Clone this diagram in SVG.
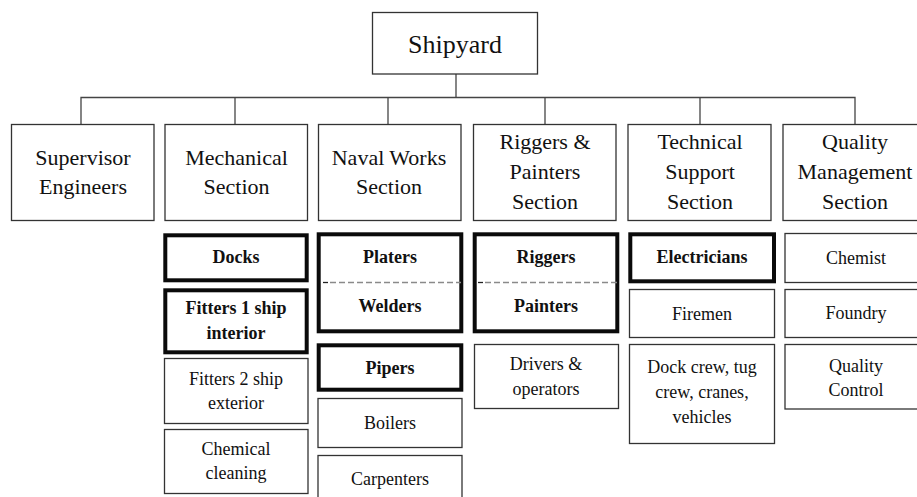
<svg xmlns="http://www.w3.org/2000/svg" width="917" height="497" viewBox="0 0 917 497">
  <style>
    .box { fill: #ffffff; stroke: #333333; stroke-width: 1.3; }
    .bold-box { fill: #ffffff; stroke: #0a0a0a; stroke-width: 4; }
    .link { fill: none; stroke: #444444; stroke-width: 1.3; }
    .divider { stroke: #8a8a8a; stroke-width: 1.3; stroke-dasharray: 6 3; }
    .divider-tick { stroke: #222222; stroke-width: 1.3; }
    text { font-family: "Liberation Serif", "Times New Roman", serif; fill: #111111; text-anchor: middle; }
    .t-root { font-size: 26px; }
    .t-sec { font-size: 22px; }
    .t-unit { font-size: 18px; }
    .t-key { font-size: 18px; font-weight: bold; }
  </style>

  <rect width="917" height="497" fill="#ffffff"/>

  <!-- connectors from the yard to each section -->
  <g id="connectors">
    <path class="link" d="M456,74 V97.5"/>
    <path class="link" d="M81,124.5 V97.5 H855 V124.5"/>
    <path class="link" d="M235,97.5 V124.5"/>
    <path class="link" d="M388,97.5 V124.5"/>
    <path class="link" d="M545,97.5 V124.5"/>
    <path class="link" d="M700,97.5 V124.5"/>
  </g>

  <!-- top level -->
  <g id="shipyard">
    <rect class="box" x="372.5" y="12.5" width="165" height="61.5"/>
    <text class="t-root" x="455" y="53">Shipyard</text>
  </g>

  <!-- sections -->
  <g id="supervisor-engineers">
    <rect class="box" x="11.5" y="124.5" width="142.5" height="96"/>
    <text class="t-sec" x="83" y="165">Supervisor</text>
    <text class="t-sec" x="83" y="194">Engineers</text>
  </g>
  <g id="mechanical-section">
    <rect class="box" x="165" y="124.5" width="142.5" height="96"/>
    <text class="t-sec" x="236.5" y="165">Mechanical</text>
    <text class="t-sec" x="236.5" y="194">Section</text>
  </g>
  <g id="naval-works-section">
    <rect class="box" x="318.5" y="124.5" width="142.5" height="96"/>
    <text class="t-sec" x="389" y="165">Naval Works</text>
    <text class="t-sec" x="389" y="194">Section</text>
  </g>
  <g id="riggers-painters-section">
    <rect class="box" x="473.5" y="124.5" width="142.5" height="96"/>
    <text class="t-sec" x="545" y="149">Riggers &amp;</text>
    <text class="t-sec" x="545" y="179">Painters</text>
    <text class="t-sec" x="545" y="209">Section</text>
  </g>
  <g id="technical-support-section">
    <rect class="box" x="628" y="124.5" width="143" height="96"/>
    <text class="t-sec" x="700" y="149">Technical</text>
    <text class="t-sec" x="700" y="179">Support</text>
    <text class="t-sec" x="700" y="209">Section</text>
  </g>
  <g id="quality-management-section">
    <rect class="box" x="783" y="124.5" width="143" height="96"/>
    <text class="t-sec" x="855" y="149">Quality</text>
    <text class="t-sec" x="855" y="179">Management</text>
    <text class="t-sec" x="855" y="209">Section</text>
  </g>

  <!-- mechanical units -->
  <g id="docks">
    <rect class="bold-box" x="165.3" y="235.3" width="141.4" height="45"/>
    <text class="t-key" x="236" y="263">Docks</text>
  </g>
  <g id="fitters-1">
    <rect class="bold-box" x="165.3" y="290.3" width="141.4" height="62"/>
    <text class="t-key" x="236" y="314">Fitters 1 ship</text>
    <text class="t-key" x="236" y="339">interior</text>
  </g>
  <g id="fitters-2">
    <rect class="box" x="164.5" y="358.5" width="143.5" height="65"/>
    <text class="t-unit" x="236" y="385">Fitters 2 ship</text>
    <text class="t-unit" x="236" y="409">exterior</text>
  </g>
  <g id="chemical-cleaning">
    <rect class="box" x="164.5" y="429.5" width="143.5" height="64"/>
    <text class="t-unit" x="236" y="455">Chemical</text>
    <text class="t-unit" x="236" y="479">cleaning</text>
  </g>

  <!-- naval works units -->
  <g id="platers-welders">
    <rect class="bold-box" x="318.7" y="234.3" width="142.6" height="97"/>
    <line class="divider-tick" x1="323" y1="282.5" x2="328" y2="282.5"/>
    <line class="divider" x1="330" y1="282.5" x2="461" y2="282.5"/>
    <text class="t-key" x="390" y="263">Platers</text>
    <text class="t-key" x="390" y="312">Welders</text>
  </g>
  <g id="pipers">
    <rect class="bold-box" x="318.7" y="345.3" width="142.6" height="44.4"/>
    <text class="t-key" x="390" y="374">Pipers</text>
  </g>
  <g id="boilers">
    <rect class="box" x="318" y="398.5" width="144" height="49"/>
    <text class="t-unit" x="390" y="429">Boilers</text>
  </g>
  <g id="carpenters">
    <rect class="box" x="318" y="455.5" width="144" height="60"/>
    <text class="t-unit" x="390" y="485">Carpenters</text>
  </g>

  <!-- riggers and painters units -->
  <g id="riggers-painters">
    <rect class="bold-box" x="474.7" y="234.3" width="142.6" height="97"/>
    <line class="divider-tick" x1="478" y1="282.5" x2="483" y2="282.5"/>
    <line class="divider" x1="485" y1="282.5" x2="617" y2="282.5"/>
    <text class="t-key" x="546" y="263">Riggers</text>
    <text class="t-key" x="546" y="312">Painters</text>
  </g>
  <g id="drivers-operators">
    <rect class="box" x="474.5" y="344.5" width="144" height="64"/>
    <text class="t-unit" x="546" y="370">Drivers &amp;</text>
    <text class="t-unit" x="546" y="395">operators</text>
  </g>

  <!-- technical support units -->
  <g id="electricians">
    <rect class="bold-box" x="630.3" y="234.3" width="143.7" height="47"/>
    <text class="t-key" x="702" y="263">Electricians</text>
  </g>
  <g id="firemen">
    <rect class="box" x="629.5" y="289.5" width="145" height="48"/>
    <text class="t-unit" x="702" y="320">Firemen</text>
  </g>
  <g id="dock-crew">
    <rect class="box" x="629.5" y="344.5" width="145" height="99"/>
    <text class="t-unit" x="702" y="373">Dock crew, tug</text>
    <text class="t-unit" x="702" y="398">crew, cranes,</text>
    <text class="t-unit" x="702" y="423">vehicles</text>
  </g>

  <!-- quality management units -->
  <g id="chemist">
    <rect class="box" x="785" y="233.5" width="150" height="49"/>
    <text class="t-unit" x="856" y="264">Chemist</text>
  </g>
  <g id="foundry">
    <rect class="box" x="785" y="289.5" width="150" height="48"/>
    <text class="t-unit" x="856" y="319">Foundry</text>
  </g>
  <g id="quality-control">
    <rect class="box" x="785" y="344.5" width="150" height="64.5"/>
    <text class="t-unit" x="856" y="372">Quality</text>
    <text class="t-unit" x="856" y="396">Control</text>
  </g>
</svg>
